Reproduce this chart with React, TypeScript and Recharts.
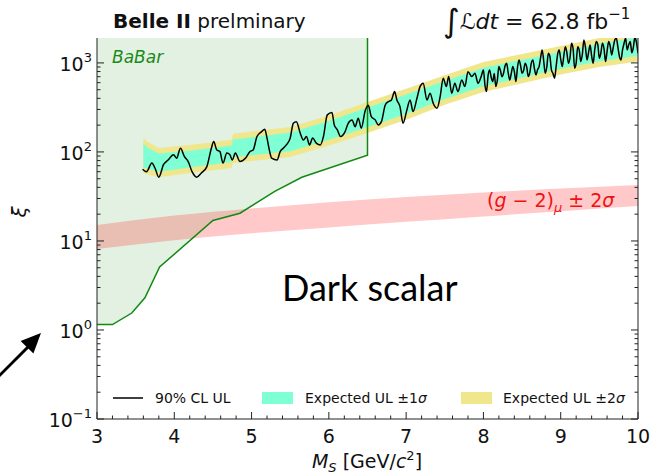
import React from 'react';
import { ComposedChart, Line, Area, XAxis, YAxis } from 'recharts';

// observed 90% CL upper limit on xi
const LIMIT_MASS = [
  3.59, 3.64, 3.71, 3.75, 3.80, 3.86, 3.92, 3.99, 4.03, 4.08, 4.13, 4.18, 4.23, 4.29, 4.35, 4.42,
  4.48, 4.51, 4.55, 4.59, 4.63, 4.68, 4.72, 4.75, 4.79, 4.85, 4.92, 4.98, 5.02, 5.07, 5.13, 5.17,
  5.20, 5.23, 5.26, 5.33, 5.37, 5.41, 5.45, 5.50, 5.54, 5.58, 5.63, 5.67, 5.71, 5.75, 5.79, 5.84,
  5.89, 5.93, 5.98, 6.04, 6.07, 6.11, 6.15, 6.21, 6.25, 6.30, 6.34, 6.38, 6.42, 6.47, 6.51, 6.55,
  6.60, 6.64, 6.68, 6.73, 6.77, 6.81, 6.85, 6.88, 6.92, 6.96, 7.01, 7.05, 7.09, 7.14, 7.18, 7.22,
  7.27, 7.31, 7.35, 7.40, 7.44, 7.48, 7.52, 7.55, 7.59, 7.63, 7.67, 7.72, 7.76, 7.80, 7.85, 7.89,
  7.93, 7.97,
  8.00, 8.02, 8.04, 8.06, 8.08, 8.10, 8.12, 8.14, 8.16, 8.18, 8.20, 8.22, 8.24, 8.26, 8.28, 8.30,
  8.32, 8.34, 8.36, 8.38, 8.40, 8.42, 8.44, 8.46, 8.48, 8.50, 8.52, 8.54, 8.56, 8.58, 8.60, 8.62,
  8.64, 8.66, 8.68, 8.70, 8.72, 8.74, 8.76, 8.78, 8.80, 8.82, 8.84, 8.86, 8.88, 8.90, 8.92, 8.94,
  8.96, 8.98, 9.00, 9.02, 9.04, 9.06, 9.08, 9.10, 9.12, 9.14, 9.16, 9.18, 9.20, 9.22, 9.24, 9.26,
  9.28, 9.30, 9.32, 9.34, 9.36, 9.38, 9.40, 9.42, 9.44, 9.46, 9.48, 9.50, 9.52, 9.54, 9.56, 9.58,
  9.60, 9.62, 9.64, 9.66, 9.68, 9.70, 9.72, 9.74, 9.76, 9.78, 9.80, 9.82, 9.84, 9.86, 9.88, 9.90,
  9.92, 9.94, 9.96, 9.98, 10.0,
];
const LIMIT_XI = [
  64, 60, 75, 66, 52, 72, 81, 93, 85, 110, 89, 78, 60, 52, 58, 68,
  110, 131, 105, 101, 75, 97, 93, 81, 97, 78, 85, 101, 105, 149, 169, 180,
  143, 105, 85, 81, 101, 110, 120, 143, 210, 219, 162, 136, 149, 120, 143, 125,
  120, 149, 261, 277, 201, 177, 149, 169, 210, 229, 192, 239, 185, 290, 335, 249,
  229, 201, 219, 337, 367, 384, 476, 384, 323, 210, 297, 384, 284, 401, 542, 592,
  384, 457, 352, 310, 418, 673, 542, 702, 457, 592, 476, 644, 542, 798, 702, 765,
  592, 700,
  834, 560, 476, 720, 834, 690, 617, 760, 542, 640, 910, 820, 700, 765, 930, 993,
  780, 644, 760, 910, 800, 617, 880, 1081, 940, 765, 820, 993, 900, 702, 780, 1000,
  1081, 860, 733, 840, 910, 1150, 1400, 1050, 765, 900, 1285, 1180, 834, 760, 673, 900,
  1250, 1400, 1100, 910, 1200, 1524, 1300, 993, 1150, 1664, 1450, 871, 1000, 1524, 1380, 1035,
  1250, 1813, 1500, 1081, 1300, 1593, 1200, 993, 1400, 1738, 1600, 1129, 1300, 1664, 1450, 1035,
  1350, 1738, 1550, 1230, 1500, 1813, 1900, 1500, 1178, 1081, 1400, 1664, 1900, 1400, 1600, 1738,
  1300, 1500, 1950, 1700, 1285,
];

// expected limit bands
const BAND_MASS = [3.60, 3.65, 3.80, 4.20, 4.74, 4.76, 5.50, 6.00, 6.50, 7.00, 7.50, 8.00, 8.50, 9.00, 9.50, 10.0];
const BAND_2S_LO = [58, 56, 52, 58, 66, 75, 88, 118, 163, 230, 340, 472, 590, 740, 900, 1040];
const BAND_1S_LO = [67, 65, 60, 67, 77, 87, 102, 137, 189, 267, 394, 548, 684, 858, 1044, 1206];
const BAND_1S_HI = [125, 112, 96, 103, 118, 138, 165, 222, 315, 442, 627, 884, 1086, 1336, 1638, 1931];
const BAND_2S_HI = [145, 130, 111, 120, 137, 160, 191, 257, 365, 513, 727, 1026, 1260, 1550, 1900, 2240];

// BaBar exclusion
const BABAR_MASS = [3.0, 3.2, 3.45, 3.62, 3.81, 4.5, 4.85, 5.3, 5.65, 6.5];
const BABAR_XI = [1.15, 1.15, 1.55, 2.3, 5.1, 17, 20.5, 36, 52, 92];

// (g-2)_mu +- 2 sigma
const GM2_MASS = [3, 4, 5, 6, 7, 8, 9, 10];
const GM2_LO = [8.1, 10.2, 12.2, 14.2, 16.4, 18.8, 21.6, 24.7];
const GM2_HI = [15.1, 19.3, 23.2, 27.3, 31.2, 35, 38.8, 42.5];

const X_TICKS = [
  3, 3.2, 3.4, 3.6, 3.8, 4, 4.2, 4.4, 4.6, 4.8, 5, 5.2, 5.4, 5.6, 5.8, 6, 6.2, 6.4, 6.6, 6.8,
  7, 7.2, 7.4, 7.6, 7.8, 8, 8.2, 8.4, 8.6, 8.8, 9, 9.2, 9.4, 9.6, 9.8, 10,
];
const Y_TICKS = [
  0.1, 0.2, 0.3, 0.4, 0.5, 0.6, 0.7, 0.8, 0.9,
  1, 2, 3, 4, 5, 6, 7, 8, 9,
  10, 20, 30, 40, 50, 60, 70, 80, 90,
  100, 200, 300, 400, 500, 600, 700, 800, 900,
  1000,
];
const Y_MIN = 0.1;
const Y_TOP = 1905;

const limitData = LIMIT_MASS.map((x, i) => ({ x, y: LIMIT_XI[i] }));
const band2 = BAND_MASS.map((x, i) => ({ x, r: [BAND_2S_LO[i], BAND_2S_HI[i]] }));
const band1 = BAND_MASS.map((x, i) => ({ x, r: [BAND_1S_LO[i], BAND_1S_HI[i]] }));
const babarFill = BABAR_MASS.map((x, i) => ({ x, r: [BABAR_XI[i], Y_TOP] }));
const babarEdge = [...BABAR_MASS.map((x, i) => ({ x, y: BABAR_XI[i] })), { x: 6.5, y: Y_TOP }];
const gm2 = GM2_MASS.map((x, i) => ({ x, r: [GM2_LO[i], GM2_HI[i]] }));

const FONT = 'DejaVu Sans, sans-serif';
const AX = '#222';

const isMajorLog = (v: number) => Math.abs(Math.log10(v) - Math.round(Math.log10(v))) < 1e-6;

const XTick = (props: any) => {
  const { x, y, payload } = props;
  const v = payload.value;
  const major = Math.abs(v - Math.round(v)) < 1e-6;
  return (
    <g>
      <line x1={x} x2={x} y1={y} y2={y - (major ? 7 : 3.5)} stroke={AX} />
      {major && (
        <text x={x} y={y + 24} textAnchor="middle" fontSize={19} fontFamily={FONT} fill="#111">{v}</text>
      )}
    </g>
  );
};

const YTickLeft = (props: any) => {
  const { x, y, payload } = props;
  const v = payload.value;
  const major = isMajorLog(v);
  const e = Math.round(Math.log10(v));
  return (
    <g>
      <line x1={x} x2={x + (major ? 7 : 3.5)} y1={y} y2={y} stroke={AX} />
      {major && (
        <text x={x - 5} y={y + 8} textAnchor="end" fontSize={19} fontFamily={FONT} fill="#111">
          10<tspan dy={-9} fontSize={13}>{e < 0 ? '\u2212' + -e : e}</tspan>
        </text>
      )}
    </g>
  );
};

const YTickRight = (props: any) => {
  const { x, y, payload } = props;
  const major = isMajorLog(payload.value);
  return <line x1={x} x2={x - (major ? 7 : 3.5)} y1={y} y2={y} stroke={AX} />;
};

export default function App() {
  return (
    <div style={{ position: 'absolute', left: 0, top: 0, width: 662, height: 476, background: '#fff', fontFamily: FONT }}>
      <ComposedChart width={662} height={476} margin={{ top: 38, right: 23, bottom: 0, left: 0 }}>
        <XAxis dataKey="x" type="number" domain={[3, 10]} ticks={X_TICKS} interval={0} allowDataOverflow
          tick={<XTick />} tickLine={false} tickSize={0} tickMargin={0} height={57} axisLine={{ stroke: AX }} />
        <XAxis xAxisId="top" orientation="top" type="number" domain={[3, 10]} allowDataOverflow
          tick={false} tickLine={false} height={0} axisLine={{ stroke: AX }} />
        <YAxis type="number" scale="log" domain={[Y_MIN, Y_TOP]} ticks={Y_TICKS} interval={0} allowDataOverflow
          tick={<YTickLeft />} tickLine={false} tickSize={0} tickMargin={0} width={97} axisLine={{ stroke: AX }} />
        <YAxis yAxisId="right" orientation="right" type="number" scale="log" domain={[Y_MIN, Y_TOP]} ticks={Y_TICKS}
          interval={0} allowDataOverflow tick={<YTickRight />} tickLine={false} tickSize={0} tickMargin={0} width={1}
          axisLine={{ stroke: AX }} />

        <Area data={babarFill} dataKey="r" type="linear" fill="#008000" fillOpacity={0.11} stroke="none" isAnimationActive={false} />
        <Area data={gm2} dataKey="r" type="monotone" fill="#ff0000" fillOpacity={0.21} stroke="none" isAnimationActive={false} />
        <Line data={babarEdge} dataKey="y" type="linear" stroke="#118811" strokeWidth={1.5} dot={false} isAnimationActive={false} />
        <Area data={band2} dataKey="r" type="linear" fill="#f0e68c" fillOpacity={1} stroke="none" isAnimationActive={false} />
        <Area data={band1} dataKey="r" type="linear" fill="#7fffd4" fillOpacity={1} stroke="none" isAnimationActive={false} />
        <Line data={limitData} dataKey="y" type="monotone" stroke="#000" strokeWidth={1.5} dot={false} isAnimationActive={false} />
      </ComposedChart>

      <svg width={662} height={476} style={{ position: 'absolute', left: 0, top: 0, pointerEvents: 'none' }} fontFamily={FONT}>
        <text x={113} y={28} fontSize={20} fill="#111">
          <tspan fontWeight="bold">Belle II</tspan> prelminary
        </text>
        <text x={443} y={29} fontSize={22} fill="#111">
          <tspan fontSize={32} dy={3}>∫</tspan><tspan dy={-3} fontStyle="italic">ℒdt</tspan> = 62.8 fb<tspan dy={-10} fontSize={15}>−1</tspan>
        </text>
        <text x={112} y={63} fontSize={17} fontStyle="italic" fill="#1a8a1a">BaBar</text>
        <text x={487} y={207} fontSize={19} fill="#ee1111">
          (<tspan fontStyle="italic">g</tspan> − 2)<tspan dy={5} fontSize={13} fontStyle="italic">μ</tspan><tspan dy={-5}> ± 2</tspan><tspan fontStyle="italic">σ</tspan>
        </text>
        <text x={282} y={301} fontSize={36} fontFamily="Lato, sans-serif" fill="#000">Dark scalar</text>

        <text transform="rotate(-90 26 212)" x={26} y={212} fontSize={20} fontStyle="italic" textAnchor="middle" fill="#111">ξ</text>
        <text x={367} y={468} fontSize={19} textAnchor="middle" fill="#111">
          <tspan fontStyle="italic">M</tspan><tspan dy={4} fontSize={13} fontStyle="italic">S</tspan><tspan dy={-4}> [GeV/</tspan><tspan fontStyle="italic">c</tspan><tspan dy={-8} fontSize={13}>2</tspan><tspan dy={8}>]</tspan>
        </text>

        {/* legend */}
        <line x1={113} x2={143} y1={398} y2={398} stroke="#000" strokeWidth={1.5} />
        <text x={155} y={403} fontSize={14} fill="#111">90% CL UL</text>
        <rect x={262} y={392} width={31} height={12} fill="#7fffd4" />
        <text x={305} y={403} fontSize={14} fill="#111">Expected UL ±1<tspan fontStyle="italic">σ</tspan></text>
        <rect x={461} y={392} width={31} height={12} fill="#f0e68c" />
        <text x={503} y={403} fontSize={14} fill="#111">Expected UL ±2<tspan fontStyle="italic">σ</tspan></text>

        {/* arrow */}
        <line x1={-2} y1={377} x2={28} y2={347} stroke="#000" strokeWidth={3} />
        <polygon points="41,333 33.4,353.6 20.6,341" fill="#000" />
      </svg>
    </div>
  );
}
